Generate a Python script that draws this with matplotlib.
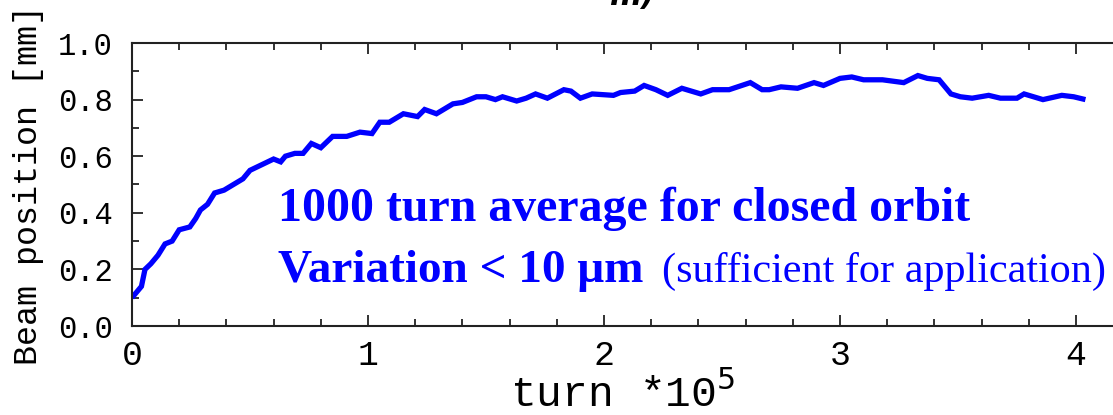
import matplotlib
matplotlib.use("Agg")
import matplotlib.pyplot as plt
from matplotlib.ticker import MultipleLocator, FixedLocator

# Data: turn (x 1e5) and beam position (mm)
turn = [0.00, 0.02, 0.04, 0.055, 0.08, 0.11, 0.14, 0.17, 0.20, 0.245, 0.27, 0.29, 0.32,
        0.35, 0.39, 0.43, 0.47, 0.50, 0.55, 0.60, 0.63, 0.65, 0.69, 0.725, 0.76, 0.80,
        0.85, 0.91, 0.966, 1.017, 1.05, 1.09, 1.15, 1.21, 1.24, 1.29, 1.36, 1.40, 1.46,
        1.50, 1.54, 1.57, 1.63, 1.67, 1.71, 1.76, 1.83, 1.86, 1.90, 1.95, 2.04, 2.07,
        2.13, 2.17, 2.22, 2.27, 2.33, 2.41, 2.46, 2.53, 2.62, 2.67, 2.70, 2.75, 2.82,
        2.89, 2.93, 3.00, 3.05, 3.10, 3.18, 3.27, 3.33, 3.37, 3.42, 3.47, 3.51, 3.56,
        3.63, 3.68, 3.75, 3.78, 3.86, 3.94, 3.99, 4.04]
position = [0.10, 0.12, 0.14, 0.20, 0.22, 0.25, 0.29, 0.30, 0.34, 0.35, 0.38, 0.41, 0.43,
            0.47, 0.48, 0.50, 0.52, 0.55, 0.57, 0.59, 0.58, 0.60, 0.61, 0.61, 0.645, 0.63,
            0.67, 0.67, 0.685, 0.68, 0.72, 0.72, 0.75, 0.74, 0.765, 0.75, 0.785, 0.79, 0.81,
            0.81, 0.80, 0.81, 0.795, 0.805, 0.82, 0.805, 0.835, 0.83, 0.805, 0.82, 0.815, 0.825,
            0.83, 0.85, 0.835, 0.815, 0.84, 0.82, 0.835, 0.835, 0.86, 0.835, 0.835, 0.845, 0.84,
            0.86, 0.85, 0.875, 0.88, 0.87, 0.87, 0.86, 0.885, 0.875, 0.87, 0.82, 0.81, 0.805,
            0.815, 0.805, 0.805, 0.82, 0.80, 0.815, 0.81, 0.80]

x_ticks = [0, 1, 2, 3, 4]
x_tick_labels = ["0", "1", "2", "3", "4"]
y_ticks = [0.0, 0.2, 0.4, 0.6, 0.8, 1.0]
y_tick_labels = ["0.0", "0.2", "0.4", "0.6", "0.8", "1.0"]

W, H = 1113, 415
fig = plt.figure(figsize=(W / 100, H / 100), dpi=100)
left, right, top, bottom = 132, 1113, 43, 326
ax = fig.add_axes([left / W, 1 - bottom / H, (right - left) / W, (bottom - top) / H])

ax.plot(turn, position, color=(0, 0, 1), lw=3.8, solid_joinstyle="miter",
        solid_capstyle="butt")

ax.set_xlim(0, (right - left) / 236.0)
ax.set_ylim(0, 1.0)

mono = "Liberation Mono"
ax.xaxis.set_major_locator(FixedLocator(x_ticks))
ax.set_xticklabels(x_tick_labels, fontfamily=mono, fontsize=25)
ax.xaxis.set_minor_locator(MultipleLocator(0.2))
ax.yaxis.set_major_locator(FixedLocator(y_ticks))
ax.set_yticklabels(y_tick_labels, fontfamily=mono, fontsize=22)
ax.yaxis.set_minor_locator(MultipleLocator(0.1))

ax.tick_params(which="both", direction="in", top=True, right=False, color="#222222",
               width=1.3)
ax.tick_params(which="major", length=8)
ax.tick_params(which="minor", length=5)
ax.tick_params(axis="x", which="major", pad=9)
ax.tick_params(axis="y", which="major", pad=14)

for s in ["left", "bottom", "top"]:
    ax.spines[s].set_color("#222222")
    ax.spines[s].set_linewidth(1.5)
ax.spines["right"].set_visible(False)

ax.set_xlabel("turn *10$^5$", fontfamily=mono, fontsize=31, labelpad=1)
ax.set_ylabel("Beam position [mm]", fontfamily=mono, fontsize=24, labelpad=10)

serif = "Liberation Serif"
blue = (0, 0, 1)
fig.text(278 / W, 1 - 221 / H, "1000 turn average for closed orbit", fontfamily=serif,
         fontsize=34.5, fontweight="bold", color=blue, ha="left", va="baseline")
fig.text(278 / W, 1 - 282 / H, "Variation < 10 \u03bcm", fontfamily=serif,
         fontsize=34, fontweight="bold", color=blue, ha="left", va="baseline")
fig.text(662 / W, 1 - 282 / H, "(sufficient for application)", fontfamily=serif,
         fontsize=30.4, color=blue, ha="left", va="baseline")

fig.text(655 / W, 1 - 5 / H, "m)", fontfamily="DejaVu Sans", fontsize=22,
         fontweight="bold", fontstyle="italic", color="black", ha="right", va="baseline")

fig.savefig("out.png", dpi=100)
